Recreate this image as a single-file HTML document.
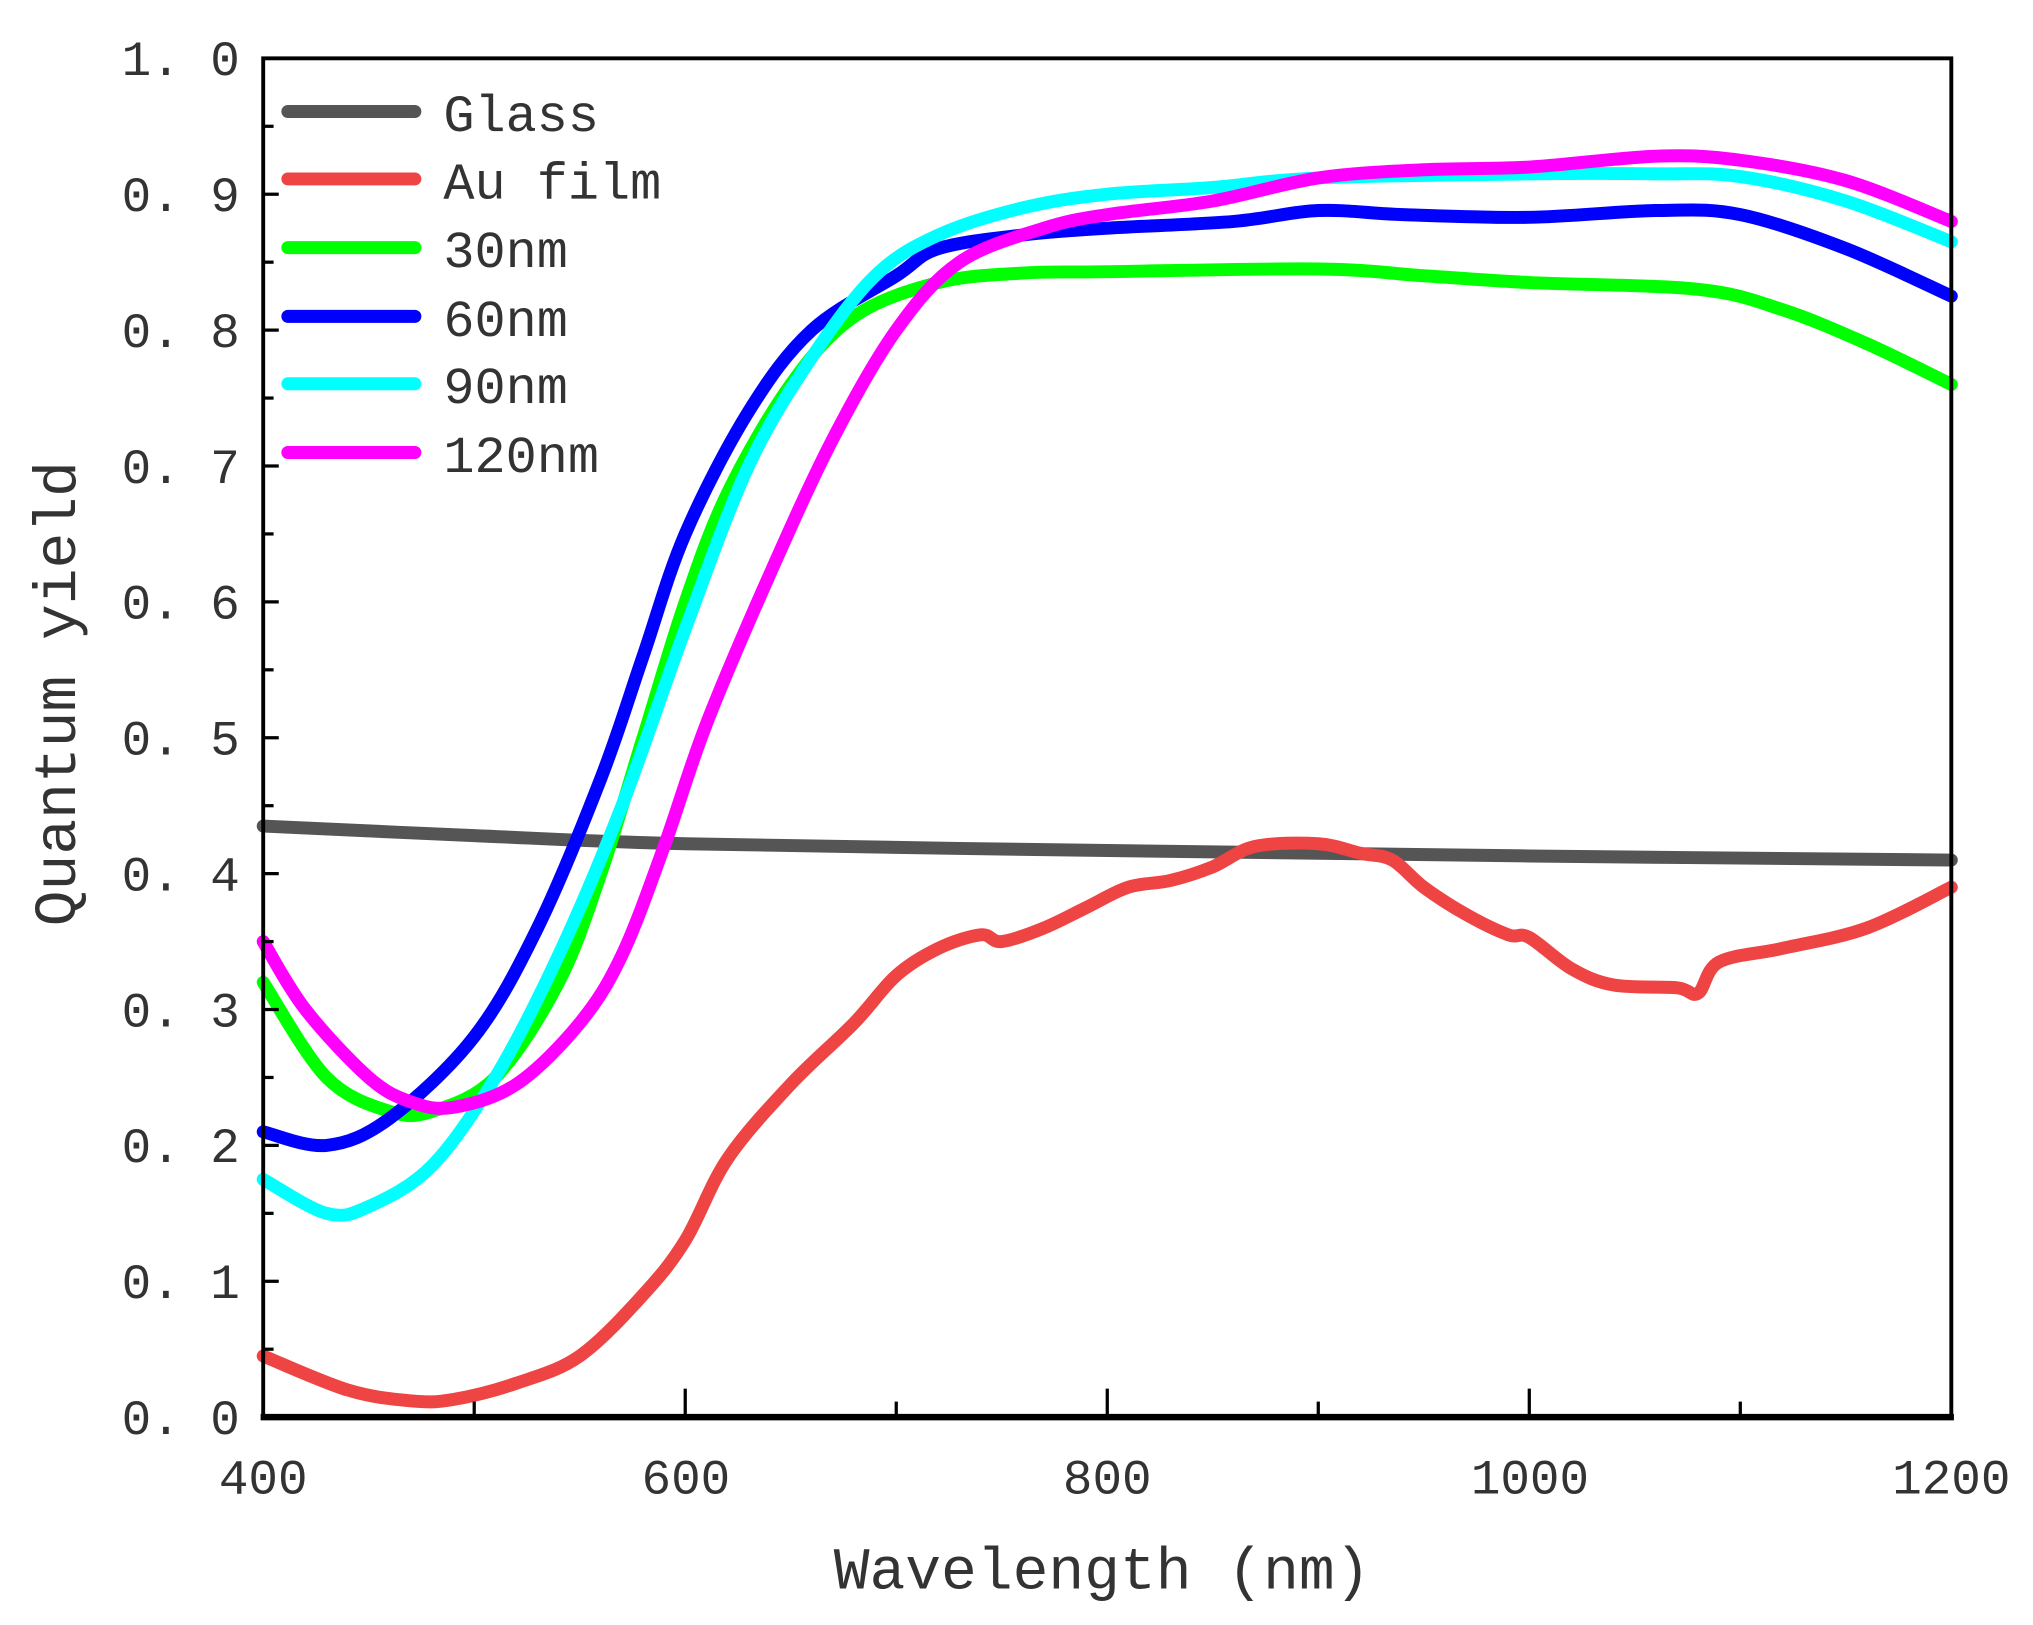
<!DOCTYPE html>
<html><head><meta charset="utf-8"><style>
html,body{margin:0;padding:0;background:#fff;}
svg{display:block;}
text{font-family:"Liberation Mono","Noto Serif CJK SC",monospace;fill:#333;}
</style></head><body>
<svg id="s" width="2033" height="1625" viewBox="0 0 1568 1253.3" preserveAspectRatio="none" xmlns="http://www.w3.org/2000/svg">
<g id="curves" fill="none" stroke-width="10" stroke-linecap="round" stroke-linejoin="round"></g>
<rect x="203" y="45" width="1302" height="1048" fill="none" stroke="#000" stroke-width="3"/>
<line x1="201" y1="1093" x2="1507" y2="1093" stroke="#000" stroke-width="5"/>
<g id="ticks" stroke="#000" stroke-width="2.5"></g>
<g font-size="38" text-anchor="end" id="ylab"></g>
<g font-size="38" text-anchor="middle">
<text x="203" y="1152">400</text><text x="529" y="1152">600</text><text x="854" y="1152">800</text><text x="1180" y="1152">1000</text><text x="1505" y="1152">1200</text>
</g>
<text x="850" y="1225" font-size="46" text-anchor="middle">Wavelength (nm)</text>
<text transform="translate(58,535) rotate(-90)" font-size="46" text-anchor="middle">Quantum yield</text>
<g stroke-width="10" stroke-linecap="round">
<line x1="222" y1="86" x2="320" y2="86" stroke="#555"/>
<line x1="222" y1="138" x2="320" y2="138" stroke="#ef4444"/>
<line x1="222" y1="191" x2="320" y2="191" stroke="#00ff00"/>
<line x1="222" y1="244" x2="320" y2="244" stroke="#0000ff"/>
<line x1="222" y1="296" x2="320" y2="296" stroke="#00ffff"/>
<line x1="222" y1="349" x2="320" y2="349" stroke="#ff00ff"/>
</g>
<g font-size="40">
<text x="342" y="101">Glass</text><text x="342" y="153">Au film</text><text x="342" y="206">30nm</text>
<text x="342" y="259">60nm</text><text x="342" y="311">90nm</text><text x="342" y="364">120nm</text>
</g>
</svg>
<script>
const X=w=>203+(w-400)*1.6275, Y=v=>1093-v*1048;
const data={
"#555":[[400,.435],[500,.428],[600,.422],[800,.417],[1000,.413],[1200,.41]],
"#ef4444":[[400,.045],[440,.02],[470,.012],[490,.013],[520,.025],[550,.045],[580,.09],[600,.13],[620,.19],[650,.245],[680,.29],[700,.325],[720,.345],[740,.355],[750,.35],[770,.36],[790,.375],[810,.39],[830,.395],[850,.405],[870,.42],[900,.422],[920,.415],[935,.41],[950,.39],[970,.37],[990,.355],[1000,.353],[1020,.33],[1040,.318],[1070,.316],[1080,.312],[1090,.335],[1120,.345],[1160,.36],[1200,.39]],
"#00ff00":[[400,.32],[430,.25],[460,.225],[480,.225],[510,.25],[540,.32],[560,.40],[580,.5],[600,.6],[620,.68],[650,.76],[680,.81],[720,.835],[760,.842],[800,.843],[900,.845],[950,.84],[1000,.835],[1080,.83],[1120,.815],[1160,.79],[1200,.76]],
"#0000ff":[[400,.21],[430,.2],[460,.22],[500,.28],[530,.36],[560,.47],[580,.56],[600,.65],[630,.74],[660,.8],[700,.84],[720,.86],[760,.87],[800,.875],[860,.88],[900,.888],[940,.885],[1000,.883],[1060,.888],[1100,.885],[1150,.86],[1200,.825]],
"#00ffff":[[400,.175],[430,.15],[450,.155],[480,.185],[510,.25],[540,.34],[570,.45],[600,.58],[630,.7],[660,.78],[690,.84],[720,.87],[760,.89],[800,.9],[850,.905],[900,.912],[1000,.915],[1060,.915],[1100,.913],[1150,.895],[1200,.865]],
"#ff00ff":[[400,.35],[420,.3],[450,.25],[470,.232],[490,.228],[520,.245],[550,.29],[570,.34],[590,.42],[610,.51],[640,.62],[670,.72],[700,.8],[730,.85],[770,.875],[800,.885],[850,.895],[900,.912],[950,.918],[1000,.92],[1060,.928],[1100,.925],[1150,.91],[1200,.88]]};
let h="";
for(const c in data){const p=data[c].map(([w,v])=>[X(w),Y(v)]);
let d="M"+p[0].join(",");
for(let i=0;i<p.length-1;i++){const p0=p[i-1]||p[i],p1=p[i],p2=p[i+1],p3=p[i+2]||p2;
d+=` C${p1[0]+(p2[0]-p0[0])/6},${p1[1]+(p2[1]-p0[1])/6} ${p2[0]-(p3[0]-p1[0])/6},${p2[1]-(p3[1]-p1[1])/6} ${p2[0]},${p2[1]}`;}
h+=`<path d="${d}" stroke="${c}"/>`;}
document.getElementById("curves").innerHTML=h;
let t="",l="";
for(let w=500;w<1200;w+=100){const x=X(w),L=(w%200==0)?22:12;t+=`<line x1="${x}" y1="1093" x2="${x}" y2="${1093-L}"/>`;}
for(let i=1;i<20;i++){const y=Y(i*0.05),L=(i%2==0)?12:8;t+=`<line x1="203" y1="${y}" x2="${203+L}" y2="${y}"/>`;}
for(let i=0;i<=10;i++){const v=(i/10).toFixed(1).replace(".",". ");l+=`<text x="185" y="${Y(i/10)+13}">${v}</text>`;}
document.getElementById("ticks").innerHTML=t;
document.getElementById("ylab").innerHTML=l;
</script>
</body></html>
